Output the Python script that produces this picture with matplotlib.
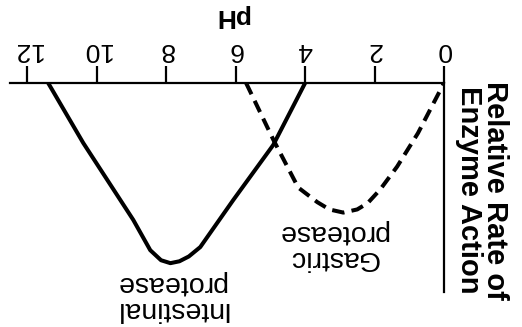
import matplotlib
matplotlib.use("Agg")
import matplotlib.pyplot as plt

plt.rcParams['font.family'] = ['Liberation Sans', 'DejaVu Sans']

# readings off the (upside-down) figure
ph_ticks = [0, 2, 4, 6, 8, 10, 12]

gastric_ph = [5.7, 4.92, 4.2, 3.65, 3.3, 2.9, 2.5, 2.2, 1.84, 1.35, 0.75, 0.0]
gastric_rate = [0.0, 0.27, 0.50, 0.57, 0.605, 0.62, 0.605, 0.575, 0.51, 0.40, 0.24, 0.0]

intestinal_ph = [4.0, 4.92, 6.07, 7.02, 7.35, 7.62, 7.88, 8.15, 8.46, 8.95, 10.39, 11.4]
intestinal_rate = [0.0, 0.297, 0.56, 0.785, 0.83, 0.853, 0.862, 0.848, 0.80, 0.655, 0.287, 0.0]

fig = plt.figure(figsize=(5.22, 3.27), dpi=100)
ax = fig.add_axes([10/522, 1-292/327, 434/522, 209/327])

ax.plot(intestinal_ph, intestinal_rate, color='black', lw=2.9, solid_joinstyle='round', solid_capstyle='round')
ax.plot(gastric_ph, gastric_rate, color='black', lw=2.9, dashes=(3.1, 1.8), dash_capstyle='butt')

# whole chart is printed rotated by 180 degrees
ax.set_xlim(12.5, 0)
ax.set_ylim(1, 0)

for s in ['left', 'bottom']:
    ax.spines[s].set_visible(False)
for s in ['top', 'right']:
    ax.spines[s].set_linewidth(1.6)

ax.set_xticks(ph_ticks)
ax.set_yticks([])
ax.tick_params(axis='x', top=True, bottom=False, labeltop=True, labelbottom=False,
               length=12, width=1.6, labelsize=19, labelrotation=180, pad=3)

ax.xaxis.set_label_position('top')
ax.set_xlabel('pH', fontsize=19, fontweight='bold', rotation=180)
ax.xaxis.set_label_coords((232-10)/434, (292-23)/209)

ax.yaxis.set_label_position('right')
ax.set_ylabel('Relative Rate of\nEnzyme Action', fontsize=21, fontweight='bold',
              rotation=270, linespacing=0.95, va='center', ha='center')
ax.yaxis.set_label_coords((482-10)/434, (292-190)/209)

ax.text(3.19, 0.775, 'Gastric\nprotease', fontsize=20.5, rotation=180,
        ha='center', va='center', linespacing=1.0)
ax.text(7.88, 1.02, 'Intestinal\nprotease', fontsize=20.5, rotation=180,
        ha='center', va='center', linespacing=1.0)

fig.savefig('out.png', dpi=100)
